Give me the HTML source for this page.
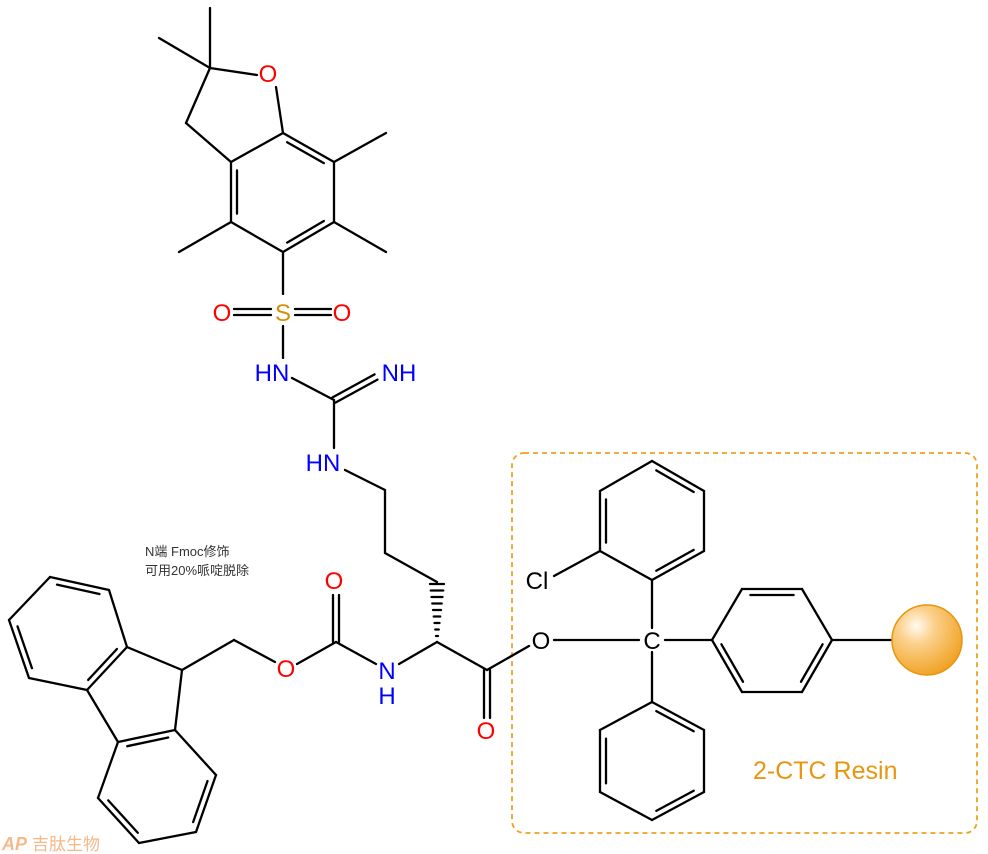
<!DOCTYPE html>
<html><head><meta charset="utf-8"><style>
body{margin:0;background:#fff;width:988px;height:854px;overflow:hidden}
svg{display:block}
text{font-family:"Liberation Sans","Noto Sans CJK SC",sans-serif}
</style></head><body>
<svg id="s" width="988" height="854" viewBox="0 0 988 854" xmlns="http://www.w3.org/2000/svg">
<defs><radialGradient id="g" cx="0.35" cy="0.3" r="0.75">
<stop offset="0" stop-color="#fffaf0"/><stop offset="0.35" stop-color="#fbd08a"/><stop offset="1" stop-color="#f0a020"/></radialGradient></defs>
<rect x="512" y="453" width="465" height="380" rx="12" fill="none" stroke="#f0a020" stroke-width="1.8" stroke-dasharray="5,4"/>
<g id="b" stroke="#000" stroke-width="2.3" fill="none" stroke-linecap="round"></g>
<circle cx="927" cy="640" r="35" fill="url(#g)" stroke="#e8940f" stroke-width="1.5"/>
<g font-size="24" text-anchor="middle">
<text x="268" y="82" fill="#f00">O</text>
<text x="283" y="321" fill="#d4900a">S</text>
<text x="222" y="321" fill="#f00">O</text>
<text x="342" y="321" fill="#f00">O</text>
<text x="272" y="381" fill="#00f">HN</text>
<text x="399" y="381" fill="#00f">NH</text>
<text x="323" y="471" fill="#00f">HN</text>
<text x="387" y="679" fill="#00f">N</text>
<text x="387" y="704" fill="#00f">H</text>
<text x="334" y="589" fill="#f00">O</text>
<text x="286" y="677" fill="#f00">O</text>
<text x="486" y="739" fill="#f00">O</text>
<text x="541" y="649" fill="#000">O</text>
<text x="652" y="649" fill="#000">C</text>
<text x="537" y="589" fill="#000">Cl</text>
</g>
<text x="753" y="779" font-size="25" fill="#e8960f">2-CTC Resin</text>
<text x="145" y="556" font-size="13" fill="#333">N端 Fmoc修饰</text>
<text x="145" y="575" font-size="13" fill="#333">可用20%哌啶脱除</text>
<text x="2" y="850" font-size="18" fill="#f5b98a" font-style="italic" font-weight="bold">AP</text>
<text x="32" y="850" font-size="17" fill="#f5b98a">吉肽生物</text>
</svg>
<script>
var g=document.getElementById('b'),h='';
function L(a,b,c,d){h+='<line x1="'+a+'" y1="'+b+'" x2="'+c+'" y2="'+d+'"/>';}
function D(a,b,c,d,cx,cy){L(a,b,c,d);var mx=(a+c)/2,my=(b+d)/2,dx=cx-mx,dy=cy-my,l=Math.hypot(dx,dy),ox=dx/l*6,oy=dy/l*6;
 var sx=(c-a)*0.14,sy=(d-b)*0.14;L(a+ox+sx,b+oy+sy,c+ox-sx,d+oy-sy);}
function P(a,b,c,d,o){var dx=c-a,dy=d-b,l=Math.hypot(dx,dy),nx=-dy/l*o,ny=dx/l*o;L(a+nx,b+ny,c+nx,d+ny);L(a-nx,b-ny,c-nx,d-ny);}
function R(pts,dbl){var cx=0,cy=0;pts.forEach(p=>{cx+=p[0];cy+=p[1]});cx/=pts.length;cy/=pts.length;
 for(var i=0;i<pts.length;i++){var p=pts[i],q=pts[(i+1)%pts.length];if(dbl.indexOf(i)>=0)D(p[0],p[1],q[0],q[1],cx,cy);else L(p[0],p[1],q[0],q[1]);}}
L(210,8,210,68);L(159,38,210,68);L(210,68,257,75);L(276,87,283,133);L(210,68,186,123);L(186,123,231,162);
R([[231,162],[283,133],[334,162],[334,222],[283,252],[231,222]],[1,3,5]);
L(334,162,386,133);L(334,222,386,252);L(231,222,179,252);
L(283,252,283,294);P(234,312,271,312,3);P(295,312,331,312,3);L(283,326,283,358);
L(292,378,334,400);P(334,400,376,377,3);L(334,400,334,448);L(345,470,385,490);
L(385,490,385,553);L(385,553,437,582);
for(var i=0;i<9;i++){var y=584+i*6.5,w=7-i*0.75;L(437-w,y,437+w,y);}
L(437,642,399,664);L(376,664,336,642);P(336,642,336,595,3);L(336,642,297,664);L(275,662,234,640);L(234,640,182,670);
L(437,642,487,670);P(487,670,487,718,3);L(487,670,529,646);L(554,640,639,640);
L(182,670,127,647);L(182,670,175,730);
R([[127,647],[109,590],[50,577],[9,620],[29,678],[87,690]],[1,3,5]);
R([[118,742],[175,730],[216,775],[196,832],[139,843],[98,798]],[0,2,4]);
L(87,690,118,742);
L(652,628,652,580);L(652,652,652,702);L(665,640,712,640);L(832,640,892,640);L(600,551,554,576);
R([[652,580],[600,551],[600,491],[652,461],[704,491],[704,551]],[1,3,5]);
R([[652,702],[704,730],[704,792],[652,820],[600,792],[600,730]],[0,2,4]);
R([[712,640],[742,589],[802,589],[832,640],[802,692],[742,692]],[1,3,5]);
g.innerHTML=h;
</script>
</body></html>
